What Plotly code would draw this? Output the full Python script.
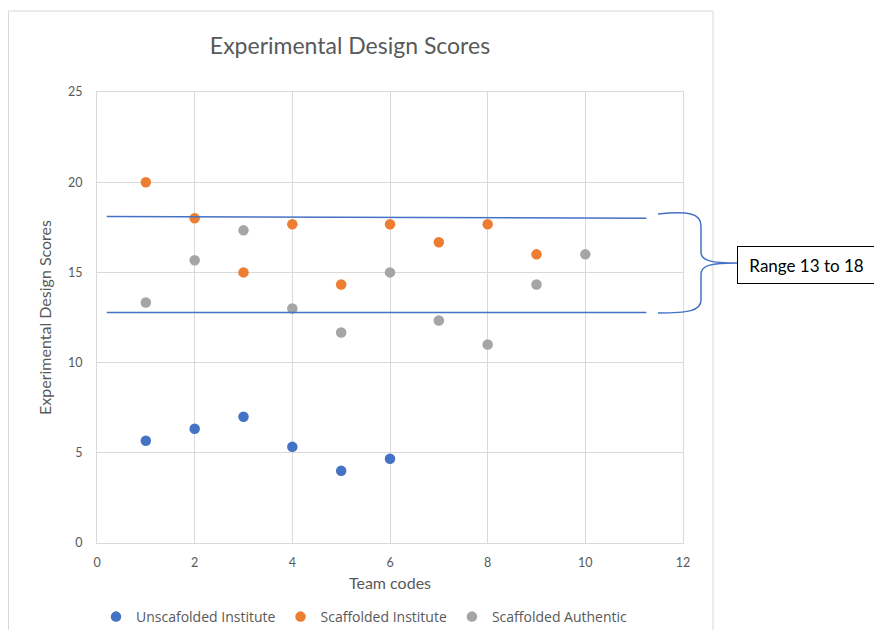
import plotly.graph_objects as go

# ---- data ----
team_unscaff = [1, 2, 3, 4, 5, 6]
score_unscaff = [5.67, 6.33, 7, 5.33, 4, 4.67]

team_scaff_inst = [1, 2, 3, 4, 5, 6, 7, 8, 9]
score_scaff_inst = [20, 18, 15, 17.67, 14.33, 17.67, 16.67, 17.67, 16]

team_scaff_auth = [1, 2, 3, 4, 5, 6, 7, 8, 9, 10]
score_scaff_auth = [13.33, 15.67, 17.33, 13, 11.67, 15, 12.33, 11, 14.33, 16]

series_names = ["Unscafolded Institute", "Scaffolded Institute", "Scaffolded Authentic"]
series_colors = ["#4472C4", "#ED7D31", "#A5A5A5"]

x_ticks = [0, 2, 4, 6, 8, 10, 12]
y_ticks = [0, 5, 10, 15, 20, 25]

range_line_x = [0.2, 11.25]
range_high_y = [18.1, 18.0]
range_low_y = [12.78, 12.78]
range_label = "Range 13 to 18"

# ---- layout geometry (page pixels; the page body adds an 8px offset) ----
OFF = 8
W, H = 882 - OFF, 630 - OFF
PL, PR, PT, PB = 97, 683, 92, 543          # plot area in page pixels
L, T = PL - OFF, PT - OFF
R, B = W - (PR - OFF), H - (PB - OFF)
PW, PH = PR - PL, PB - PT


def px(x):
    return (x - PL) / PW


def py(y):
    return (PB - y) / PH


fig = go.Figure()
for xs, ys, name, col in [
    (team_unscaff, score_unscaff, series_names[0], series_colors[0]),
    (team_scaff_inst, score_scaff_inst, series_names[1], series_colors[1]),
    (team_scaff_auth, score_scaff_auth, series_names[2], series_colors[2]),
]:
    fig.add_trace(go.Scatter(x=xs, y=ys, mode="markers", name=name,
                             marker=dict(color=col, size=10.5)))

grid = "#D9D9D9"
txt = "#595959"
font_main = "Lato, 'Open Sans', sans-serif"

shapes = []
# outer chart border
shapes.append(dict(type="rect", xref="paper", yref="paper",
                   x0=px(8.5), x1=px(713), y0=py(640), y1=py(11),
                   line=dict(color=grid, width=1), layer="below"))
# range lines
for ys in (range_high_y, range_low_y):
    shapes.append(dict(type="line", xref="x", yref="y",
                       x0=range_line_x[0], x1=range_line_x[1],
                       y0=ys[0], y1=ys[1],
                       line=dict(color="#4472C4", width=1.5)))


def P(x, y):
    return f"{px(x):.5f},{py(y):.5f}"


brace = (f"M {P(658,214)} C {P(688,211)} {P(701,213)} {P(701,226)} "
         f"L {P(701,252)} C {P(701,261)} {P(712,263)} {P(737,263)} "
         f"M {P(737,263)} C {P(712,263)} {P(701,265)} {P(701,274)} "
         f"L {P(701,300)} C {P(701,311)} {P(688,313)} {P(658,313)}")
shapes.append(dict(type="path", xref="paper", yref="paper", path=brace,
                   line=dict(color="#4472C4", width=1.5)))

fig.update_layout(
    width=W, height=H,
    margin=dict(l=L, r=R, t=T, b=B, autoexpand=False),
    paper_bgcolor="white", plot_bgcolor="white",
    title=dict(text="Experimental Design Scores", x=(350 - OFF) / W, xanchor="center",
               y=1 - (46 - OFF) / H, yanchor="middle",
               font=dict(family=font_main, size=23, color=txt)),
    xaxis=dict(range=[0, 12], tickvals=x_ticks, showgrid=True, gridcolor=grid,
               zeroline=False, showline=True, linecolor=grid, mirror=True,
               ticks="", ticklabelstandoff=8,
               tickfont=dict(family=font_main, size=12.5, color=txt),
               title=dict(text="Team codes", standoff=8,
                          font=dict(family=font_main, size=16, color=txt))),
    yaxis=dict(range=[0, 25], tickvals=y_ticks, showgrid=True, gridcolor=grid,
               zeroline=False, showline=True, linecolor=grid, mirror=True,
               ticks="", ticklabelstandoff=11,
               tickfont=dict(family=font_main, size=12.5, color=txt),
               title=dict(text="Experimental Design Scores", standoff=12,
                          font=dict(family=font_main, size=16, color=txt))),
    legend=dict(orientation="h", x=px(96), xanchor="left", y=py(617),
                yanchor="middle",
                font=dict(family="'Open Sans', sans-serif", size=14, color=txt),
                itemwidth=30, tracegroupgap=0),
    shapes=shapes,
    annotations=[dict(text="&nbsp;" + range_label, xref="paper", yref="paper",
                      x=px(737), y=py(265), xanchor="left", yanchor="middle",
                      showarrow=False, width=150, height=22, align="left",
                      bordercolor="black", borderwidth=1, borderpad=7,
                      bgcolor="white",
                      font=dict(family=font_main, size=17, color="black"))],
)

fig.write_html("out.html")
